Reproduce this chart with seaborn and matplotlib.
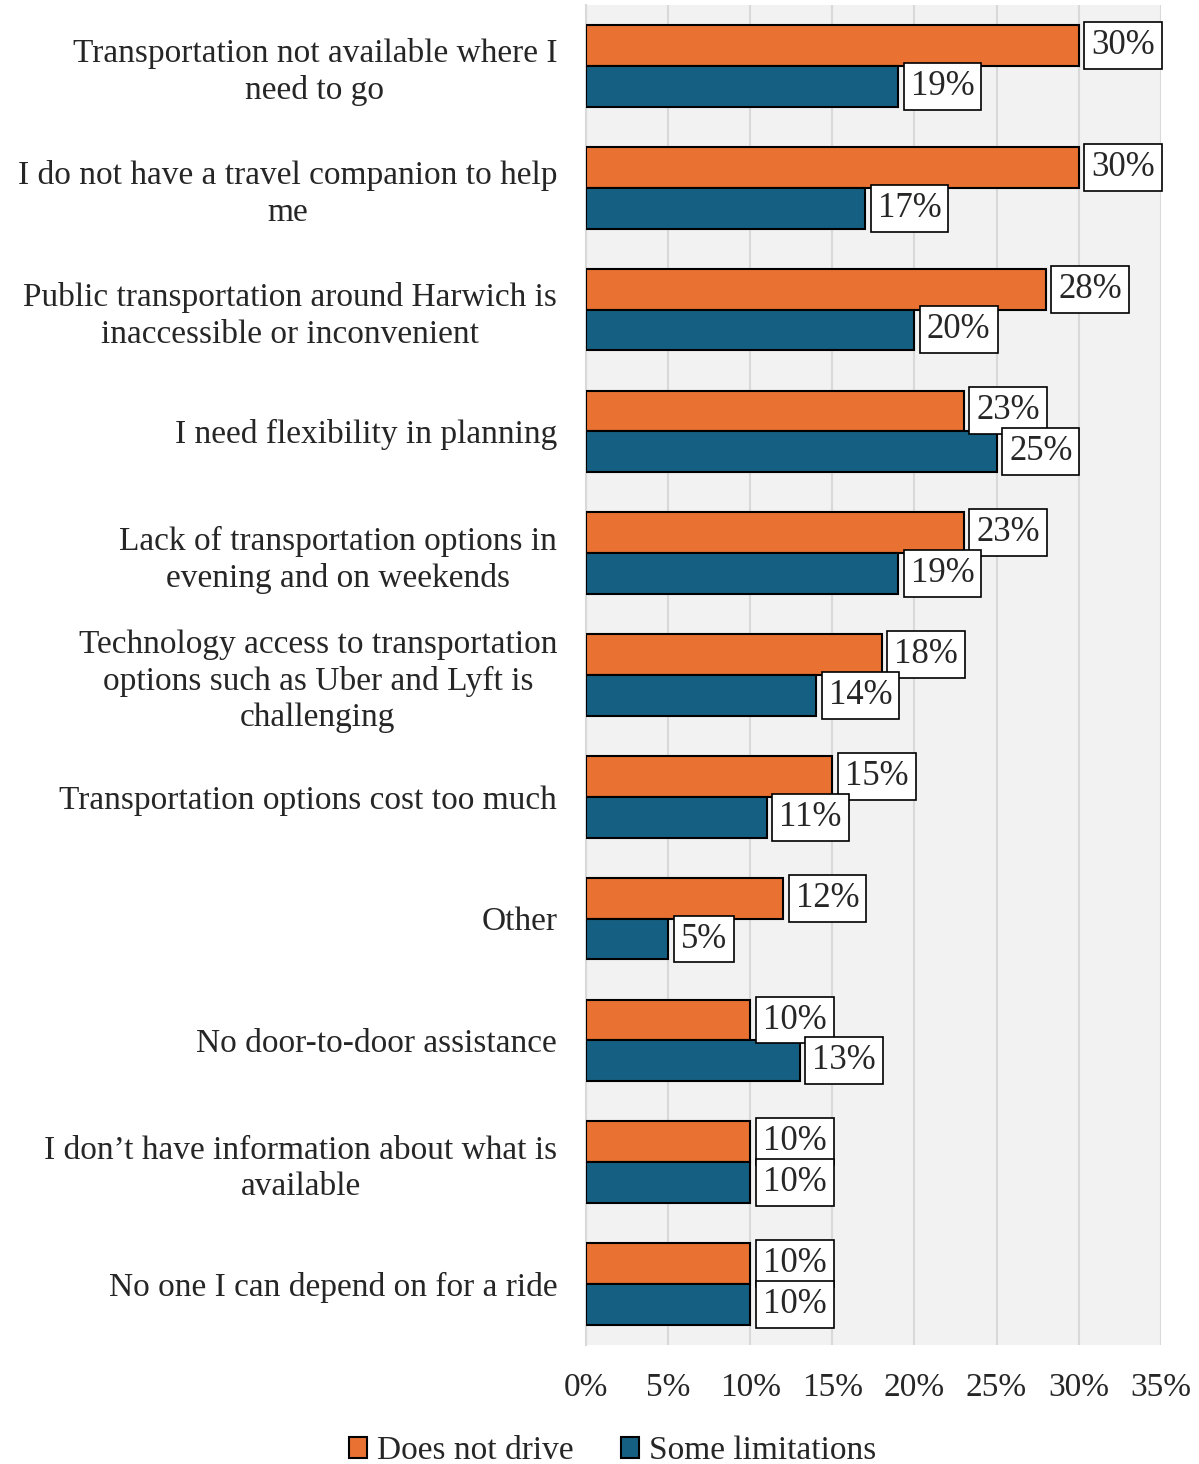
import matplotlib
matplotlib.use("Agg")
import matplotlib.pyplot as plt
import seaborn as sns
import pandas as pd
from matplotlib.patches import Patch
from matplotlib.ticker import MultipleLocator, FuncFormatter

categories = [
    "Transportation not available where I\nneed to go",
    "I do not have a travel companion to help\nme",
    "Public transportation around Harwich is\ninaccessible or inconvenient",
    "I need flexibility in planning",
    "Lack of transportation options in\nevening and on weekends",
    "Technology access to transportation\noptions such as Uber and Lyft is\nchallenging",
    "Transportation options cost too much",
    "Other",
    "No door-to-door assistance",
    "I don\u2019t have information about what is\navailable",
    "No one I can depend on for a ride",
]
does_not_drive = [30, 30, 28, 23, 23, 18, 15, 12, 10, 10, 10]
some_limitations = [19, 17, 20, 25, 19, 14, 11, 5, 13, 10, 10]
series_names = ["Does not drive", "Some limitations"]
colors = ["#E97132", "#156082"]

df = pd.DataFrame({
    "category": categories * 2,
    "value": does_not_drive + some_limitations,
    "group": [series_names[0]] * len(categories) + [series_names[1]] * len(categories),
})

sns.set_theme(style="white")
plt.rcParams["font.family"] = ["Liberation Serif", "DejaVu Serif"]
FS = 24

fig = plt.figure(figsize=(11.99, 14.64), dpi=100)
ax = fig.add_axes([0.489, 0.0813, 0.479, 0.9153])
ax.set_facecolor("#F2F2F2")

sns.barplot(data=df, x="value", y="category", hue="group", orient="h",
            palette=colors, saturation=1, width=0.67, edgecolor="black",
            linewidth=1.5, legend=False, ax=ax, zorder=3)

ax.set_xlim(0, 35)
ax.set_ylim(10.5, -0.5)
ax.xaxis.set_major_locator(MultipleLocator(5))
ax.xaxis.set_major_formatter(FuncFormatter(lambda v, p: f"{int(v)}%"))
ax.grid(axis="x", color="#D9D9D9", linewidth=1.5, zorder=0)
ax.set_axisbelow(True)
ax.set_xlabel("")
ax.set_ylabel("")
for s in ["top", "right", "bottom"]:
    ax.spines[s].set_visible(False)
ax.spines["left"].set_color("#D9D9D9")
ax.spines["left"].set_linewidth(1.5)

ax.tick_params(axis="x", length=0, pad=20, labelsize=FS)
ax.tick_params(axis="y", length=0, pad=21, labelsize=FS)
for lbl in ax.get_yticklabels():
    lbl.set_multialignment("center")
    lbl.set_linespacing(1.25)

for container, vals in zip(ax.containers, [does_not_drive, some_limitations]):
    ax.bar_label(container, labels=[f"{v}%" for v in vals], padding=9,
                 fontsize=FS + 1, zorder=5,
                 bbox=dict(boxstyle="square,pad=0.2", fc="white", ec="black", lw=1.2))

handles = [Patch(facecolor=c, edgecolor="black", linewidth=1.5) for c in colors]
fig.legend(handles, series_names, loc="center", bbox_to_anchor=(0.511, 0.009),
           ncol=2, frameon=False, fontsize=FS, handlelength=0.55, handleheight=0.6,
           handletextpad=0.3, columnspacing=1.4)

fig.savefig("out.png", dpi=100)
